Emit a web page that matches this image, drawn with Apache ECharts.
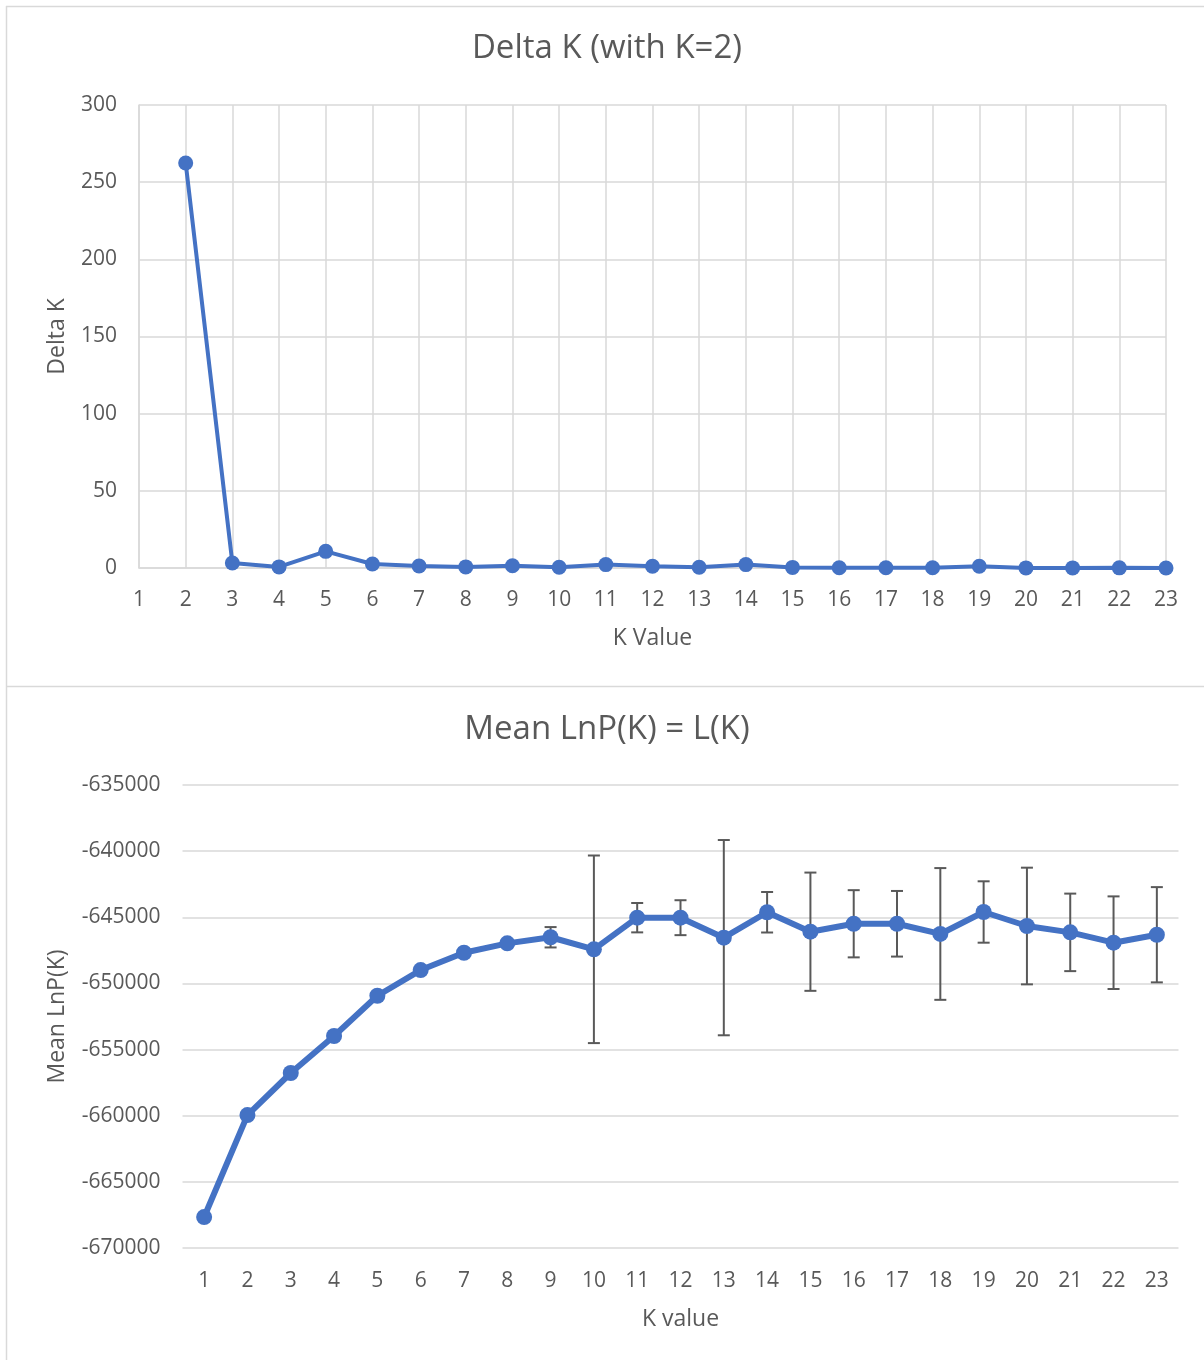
<!DOCTYPE html>
<html>
<head>
<meta charset="utf-8">
<script src="https://cdn.jsdelivr.net/npm/echarts@6/dist/echarts.min.js"></script>
<style>
  html, body { margin: 0; padding: 0; background: #fff; }
  #chart { width: 1204px; height: 1360px; }
</style>
</head>
<body>
<div id="chart"></div>
<script>
// Delta K by number of clusters K
const deltaKValues = [2, 3, 4, 5, 6, 7, 8, 9, 10, 11, 12, 13, 14, 15, 16, 17, 18, 19, 20, 21, 22, 23];
const deltaK = [262.4, 3.2, 0.7, 10.8, 2.6, 1.3, 0.7, 1.5, 0.5, 2.2, 1.1, 0.5, 2.2, 0.4, 0.15, 0.15, 0.2, 1.1, 0.05, 0.05, 0.1, 0.02];

// Mean LnP(K) with standard deviation
const kCategories = ['1', '2', '3', '4', '5', '6', '7', '8', '9', '10', '11', '12',
  '13', '14', '15', '16', '17', '18', '19', '20', '21', '22', '23'];
const meanLnP = [-667660, -659950, -656770, -653975, -650930, -648990, -647680, -646970,
  -646510, -647420, -645030, -645030, -646540, -644620, -646090, -645490, -645490,
  -646260, -644600, -645660, -646140, -646920, -646320];
const stdLnP = [0, 0, 0, 0, 0, 0, 0, 0,
  770, 7090, 1110, 1320, 7380, 1530, 4470, 2540, 2480,
  4980, 2320, 4410, 2930, 3500, 3600];

const FONT = '"Open Sans", "Noto Sans", sans-serif';
const TEXT = '#595959';
const GRID = '#d9d9d9';
const BLUE = '#4472C4';

const chart = echarts.init(document.getElementById('chart'), null, { renderer: 'canvas' });

const errorData = meanLnP.map((v, i) => [i, v - stdLnP[i], v + stdLnP[i]]);
const plainNumber = v => String(v);

chart.setOption({
  backgroundColor: '#fff',
  animation: false,
  textStyle: { fontFamily: FONT },
  title: [
    {
      text: 'Delta K (with K=2)', left: 607, top: 32, textAlign: 'center', padding: 0,
      textStyle: { fontFamily: FONT, fontSize: 33, fontWeight: 'normal', color: TEXT }
    },
    {
      text: 'Mean LnP(K) = L(K)', left: 607, top: 713, textAlign: 'center', padding: 0,
      textStyle: { fontFamily: FONT, fontSize: 33, fontWeight: 'normal', color: TEXT }
    }
  ],
  graphic: [
    // chart frames
    { type: 'line', shape: { x1: 6, y1: 6.5, x2: 1204, y2: 6.5 }, style: { stroke: GRID, lineWidth: 1.5 }, silent: true },
    { type: 'line', shape: { x1: 6.5, y1: 6, x2: 6.5, y2: 1360 }, style: { stroke: GRID, lineWidth: 1.5 }, silent: true },
    { type: 'line', shape: { x1: 6, y1: 686.5, x2: 1204, y2: 686.5 }, style: { stroke: GRID, lineWidth: 1.5 }, silent: true }
  ],
  grid: [
    { left: 139, right: 38, top: 105, bottom: 792, containLabel: false },
    { left: 182.5, right: 25.5, top: 785, bottom: 112, containLabel: false }
  ],
  xAxis: [
    {
      gridIndex: 0, type: 'value', min: 1, max: 23, interval: 1,
      name: 'K Value', nameLocation: 'middle', nameGap: 59,
      nameTextStyle: { fontFamily: FONT, fontSize: 23, color: TEXT },
      axisLine: { show: true, lineStyle: { color: GRID, width: 1.5 } },
      axisTick: { show: false },
      axisLabel: { fontFamily: FONT, fontSize: 21, color: TEXT, margin: 22, formatter: plainNumber },
      splitLine: { show: true, lineStyle: { color: GRID, width: 1.5 } }
    },
    {
      gridIndex: 1, type: 'category', data: kCategories, boundaryGap: true,
      name: 'K value', nameLocation: 'middle', nameGap: 60,
      nameTextStyle: { fontFamily: FONT, fontSize: 23, color: TEXT },
      axisLine: { show: false },
      axisTick: { show: false },
      axisLabel: { fontFamily: FONT, fontSize: 21, color: TEXT, margin: 23, interval: 0 },
      splitLine: { show: false }
    }
  ],
  yAxis: [
    {
      gridIndex: 0, type: 'value', min: 0, max: 300, interval: 50,
      name: 'Delta K', nameLocation: 'middle', nameGap: 70,
      nameTextStyle: { fontFamily: FONT, fontSize: 23, color: TEXT },
      axisLine: { show: true, lineStyle: { color: GRID, width: 1.5 } },
      axisTick: { show: false },
      axisLabel: { fontFamily: FONT, fontSize: 21, color: TEXT, margin: 22, formatter: plainNumber },
      splitLine: { show: true, lineStyle: { color: GRID, width: 1.5 } }
    },
    {
      gridIndex: 1, type: 'value', min: -670000, max: -635000, interval: 5000,
      name: 'Mean LnP(K)', nameLocation: 'middle', nameGap: 114,
      nameTextStyle: { fontFamily: FONT, fontSize: 23, color: TEXT },
      axisLine: { show: false },
      axisTick: { show: false },
      axisLabel: { fontFamily: FONT, fontSize: 21, color: TEXT, margin: 22, formatter: plainNumber },
      splitLine: { show: true, lineStyle: { color: GRID, width: 1.5 } }
    }
  ],
  series: [
    {
      type: 'line', xAxisIndex: 0, yAxisIndex: 0,
      data: deltaKValues.map((k, i) => [k, deltaK[i]]),
      symbol: 'circle', symbolSize: 15,
      lineStyle: { color: BLUE, width: 4 },
      itemStyle: { color: BLUE },
      z: 3
    },
    {
      type: 'custom', xAxisIndex: 1, yAxisIndex: 1,
      data: errorData,
      z: 2,
      renderItem: function (params, api) {
        const idx = api.value(0);
        const lo = api.value(1);
        const hi = api.value(2);
        if (hi - lo <= 0) return null;
        const top = api.coord([idx, hi]);
        const bot = api.coord([idx, lo]);
        const half = 6;
        const style = { stroke: '#595959', lineWidth: 2 };
        return {
          type: 'group',
          children: [
            { type: 'line', shape: { x1: top[0], y1: top[1], x2: bot[0], y2: bot[1] }, style: style },
            { type: 'line', shape: { x1: top[0] - half, y1: top[1], x2: top[0] + half, y2: top[1] }, style: style },
            { type: 'line', shape: { x1: bot[0] - half, y1: bot[1], x2: bot[0] + half, y2: bot[1] }, style: style }
          ]
        };
      }
    },
    {
      type: 'line', xAxisIndex: 1, yAxisIndex: 1,
      data: meanLnP,
      symbol: 'circle', symbolSize: 16,
      lineStyle: { color: BLUE, width: 6 },
      itemStyle: { color: BLUE },
      z: 3
    }
  ]
});
</script>
</body>
</html>
